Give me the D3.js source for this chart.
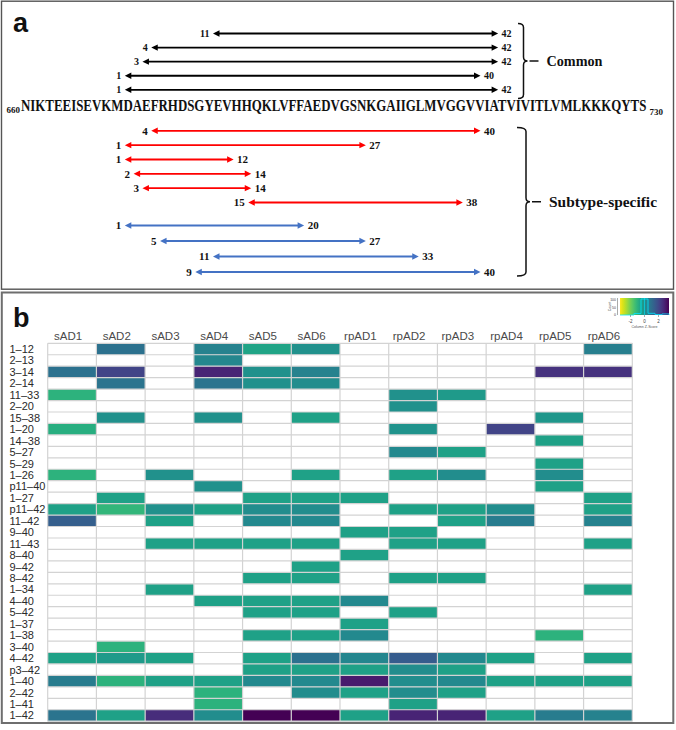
<!DOCTYPE html>
<html><head><meta charset="utf-8">
<script src="https://cdn.jsdelivr.net/npm/d3@7"></script>
<style>body{margin:0;background:#fff}svg{display:block}</style>
</head><body>
<svg id="chart" width="676" height="730"></svg>
<script>
// ---------------- data ----------------
const sequence = "NIKTEEISEVKMDAEFRHDSGYEVHHQKLVFFAEDVGSNKGAIIGLMVGGVVIATVIVITLVMLKKKQYTS";
const seqFirst = 660, seqLast = 730;
const abetaOffset = 11; // residue 1 of the peptide = index 12 of the sequence (D672)

const commonStarts = [11, 4, 3, 1, 1];
const commonEnds   = [42, 42, 42, 40, 42];
const redStarts = [4, 1, 1, 2, 3, 15];
const redEnds   = [40, 27, 12, 14, 14, 38];
const blueStarts = [1, 5, 11, 9];
const blueEnds   = [20, 27, 33, 40];
const groupLabels = ["Common", "Subtype-specific"];

const samples = ["sAD1","sAD2","sAD3","sAD4","sAD5","sAD6","rpAD1","rpAD2","rpAD3","rpAD4","rpAD5","rpAD6"];
const peptides = ["1–12","2–13","3–14","2–14","11–33","2–20","15–38","1–20","14–38","5–27","5–29","1–26",
  "p11–40","1–27","p11–42","11–42","9–40","11–43","8–40","9–42","8–42","1–34","4–40","5–42","1–37",
  "1–38","3–40","4–42","p3–42","1–40","2–42","1–41","1–42"];
const N = null;
// column z-scores (null = not detected)
const zscores = [
  [N, 0.9, N, 0.4, -0.6, 0.0,   N, N, N, N, N, 0.5],     // 1-12
  [N, N, N, 0.25, N, N,         N, N, N, N, N, N],       // 2-13
  [0.9, 2.1, N, 2.8, 0.0, 0.4,  N, N, N, N, 2.5, 2.5],   // 3-14
  [N, 0.8, N, 0.8, 0.0, 0.1,    N, N, N, N, N, N],       // 2-14
  [-1.0, N, N, N, N, N,         N, 0.0, -0.3, N, N, N],  // 11-33
  [N, N, N, N, N, N,            N, 0.0, N, N, N, N],     // 2-20
  [N, 0.0, N, 0.0, N, -0.5,     N, N, N, N, -0.2, N],    // 15-38
  [-0.9, N, N, N, N, N,         N, -0.1, N, 2.1, N, N],  // 1-20
  [N, N, N, N, N, N,            N, N, N, N, -0.5, N],    // 14-38
  [N, N, N, N, N, N,            N, 0.2, -0.5, N, N, N],  // 5-27
  [N, N, N, N, N, N,            N, N, N, N, -0.5, N],    // 5-29
  [-1.0, N, 0.0, N, N, -0.5,    N, -0.5, 0.1, N, 0.1, N],// 1-26
  [N, N, N, 0.0, N, N,          N, N, N, N, -0.5, N],    // p11-40
  [N, -0.5, N, N, -0.5, -0.5,   -0.5, N, N, N, N, -0.5], // 1-27
  [-0.5, -1.1, 0.0, -0.5, 0.1, 0.1, N, -0.5, -0.5, 0.1, N, -0.5], // p11-42
  [1.4, N, -0.5, N, 0.2, 0.2,   N, N, -0.5, 0.6, N, 0.4],// 11-42
  [N, N, N, N, N, N,            -0.5, -0.5, N, N, N, N], // 9-40
  [N, N, -0.5, -0.5, -0.5, -0.5, N, -0.5, -0.5, N, N, -0.5], // 11-43
  [N, N, N, N, N, N,            -0.5, N, N, N, N, N],    // 8-40
  [N, N, N, N, N, -0.5,         N, N, N, N, N, N],       // 9-42
  [N, N, N, N, -0.5, -0.5,      N, -0.5, -0.5, N, N, N], // 8-42
  [N, N, -0.5, N, N, N,         N, N, N, N, N, -0.5],    // 1-34
  [N, N, N, -0.5, -0.5, -0.5,   0.2, N, N, N, N, N],     // 4-40
  [N, N, N, N, -0.5, -0.5,      N, -0.5, N, N, N, N],    // 5-42
  [N, N, N, N, N, N,            -0.5, N, N, N, N, N],    // 1-37
  [N, N, N, N, -0.5, -0.5,      0.2, N, N, N, -1.0, N],  // 1-38
  [N, -1.0, N, N, N, N,         N, N, N, N, N, N],       // 3-40
  [-0.5, -0.3, -0.5, N, -0.5, 0.9, 0.3, 1.5, 0.2, -0.5, N, -0.5], // 4-42
  [N, N, N, N, -0.5, -0.5,      -0.5, 0.1, -0.5, N, N, N], // p3-42
  [0.6, -1.0, -0.5, -0.5, 0.2, 0.2, 3.0, 0.1, 0.2, -0.5, -0.5, -0.5], // 1-40
  [N, N, N, -1.0, N, 0.1,       -0.5, 0.1, -0.5, N, N, N], // 2-42
  [N, N, N, -1.0, N, N,         N, -0.5, N, N, N, N],    // 1-41
  [0.8, -0.5, 2.6, 0.1, 3.5, 3.5, -0.5, 2.8, 2.8, -0.5, 0.6, 0.4] // 1-42
];
const colorDomain = [-3.5, 3.5];
const legendTicks = [-2, 0, 2];

// ---------------- drawing ----------------
const svg = d3.select("#chart");
const serif = "'Liberation Serif','Times New Roman',serif";
const sans = "'Liberation Sans',Arial,sans-serif";

// panel frames
svg.append("rect").attr("x", 1.5).attr("y", 1.2).attr("width", 672).attr("height", 288)
  .attr("fill", "none").attr("stroke", "#555").attr("stroke-width", 1.4);
svg.append("rect").attr("x", 1.8).attr("y", 292.5).attr("width", 671.5).attr("height", 430.5)
  .attr("fill", "none").attr("stroke", "#6e6e6e").attr("stroke-width", 2);

svg.append("text").attr("x", 13).attr("y", 32).attr("font-family", sans).attr("font-weight", "bold")
  .attr("font-size", 27).attr("fill", "#111").text("a");
svg.append("text").attr("x", 13).attr("y", 327).attr("font-family", sans).attr("font-weight", "bold")
  .attr("font-size", 27).attr("fill", "#111").text("b");

// ---- panel a ----
const xSeq = d3.scaleLinear().domain([0, sequence.length]).range([21, 647]);
const seqBase = 111;
svg.append("text").attr("x", xSeq(0) - 1).attr("y", seqBase + 2).attr("text-anchor", "end")
  .attr("font-family", serif).attr("font-weight", "bold").attr("font-size", 9).attr("fill", "#111")
  .text(seqFirst);
const seqText = svg.append("text").attr("x", 0).attr("y", 0)
  .attr("font-family", serif).attr("font-weight", "bold").attr("font-size", 16.5).attr("fill", "#111")
  .text(sequence);
const natural = seqText.node().getComputedTextLength();
const sx = (xSeq(sequence.length) - xSeq(0)) / natural;
seqText.attr("transform", `translate(${xSeq(0)},${seqBase}) scale(${sx},1)`);
svg.append("text").attr("x", xSeq(sequence.length) + 2.5).attr("y", seqBase + 3.5)
  .attr("font-family", serif).attr("font-weight", "bold").attr("font-size", 9).attr("fill", "#111")
  .text(seqLast);

const xStart = r => xSeq(abetaOffset + r) - 2;
const xEnd = r => xSeq(abetaOffset + r + 1) + 1;

const yCommon = d3.scaleLinear().domain([0, commonStarts.length - 1]).range([33.5, 89.8]);
const yRed = d3.scaleLinear().domain([0, redStarts.length - 1]).range([130.8, 202.5]);
const yBlue = d3.scaleLinear().domain([0, blueStarts.length - 1]).range([225.5, 272]);

function drawArrows(starts, ends, yScale, color, fs) {
  const g = svg.append("g");
  const data = starts.map((s, i) => ({s, e: ends[i], i}));
  const hl = 6.5, hw = 3.2;
  const a = g.selectAll("g").data(data).join("g");
  a.append("line")
    .attr("x1", d => xStart(d.s) + hl - 1).attr("x2", d => xEnd(d.e) - hl + 1)
    .attr("y1", d => yScale(d.i)).attr("y2", d => yScale(d.i))
    .attr("stroke", color).attr("stroke-width", 1.8);
  a.append("path").attr("fill", color).attr("d", d => {
    const x = xStart(d.s), y = yScale(d.i);
    return `M${x},${y}L${x + hl},${y - hw}L${x + hl},${y + hw}Z`;
  });
  a.append("path").attr("fill", color).attr("d", d => {
    const x = xEnd(d.e), y = yScale(d.i);
    return `M${x},${y}L${x - hl},${y - hw}L${x - hl},${y + hw}Z`;
  });
  a.append("text").attr("x", d => xStart(d.s) - 3.5).attr("y", d => yScale(d.i)).attr("dy", "0.35em")
    .attr("text-anchor", "end").attr("font-family", serif).attr("font-weight", "bold")
    .attr("font-size", fs).attr("fill", "#111").text(d => d.s);
  a.append("text").attr("x", d => xEnd(d.e) + 3.5).attr("y", d => yScale(d.i)).attr("dy", "0.35em")
    .attr("text-anchor", "start").attr("font-family", serif).attr("font-weight", "bold")
    .attr("font-size", fs).attr("fill", "#111").text(d => d.e);
}
drawArrows(commonStarts, commonEnds, yCommon, "#000", 10);
drawArrows(redStarts, redEnds, yRed, "#ff0000", 11);
drawArrows(blueStarts, blueEnds, yBlue, "#4472c4", 11);

function brace(x0, x1, y0, y1, label, textW) {
  const ym = (y0 + y1) / 2, r = 4;
  svg.append("path").attr("fill", "none").attr("stroke", "#111").attr("stroke-width", 1.5)
    .attr("d", `M${x0},${y0}Q${x1},${y0} ${x1},${y0 + r}L${x1},${ym - r}Q${x1},${ym} ${x1 + r},${ym}` +
               `Q${x1},${ym} ${x1},${ym + r}L${x1},${y1 - r}Q${x1},${y1} ${x0},${y1}`);
  svg.append("line").attr("x1", x1 + 6).attr("x2", x1 + 15).attr("y1", ym).attr("y2", ym)
    .attr("stroke", "#111").attr("stroke-width", 1.5);
  svg.append("text").attr("x", x1 + 23).attr("y", ym + 5).attr("font-family", serif)
    .attr("font-weight", "bold").attr("font-size", 15).attr("fill", "#111")
    .attr("textLength", textW).attr("lengthAdjust", "spacingAndGlyphs").text(label);
}
brace(518, 523.5, 23.5, 98.5, groupLabels[0], 56);
brace(517, 526, 127.5, 276, groupLabels[1], 108);

// ---- panel b : heatmap ----
const x = d3.scaleBand().domain(samples).range([47.7, 632.3]);
const y = d3.scaleBand().domain(peptides).range([343.3, 721.2]);
const color = d3.scaleSequential(t => d3.interpolateViridis(1 - t)).domain(colorDomain);

const cells = [];
peptides.forEach((p, i) => samples.forEach((s, j) => cells.push({p, s, v: zscores[i][j]})));

const hm = svg.append("g");
hm.selectAll("rect.c").data(cells.filter(d => d.v !== null)).join("rect")
  .attr("class", "c")
  .attr("x", d => x(d.s)).attr("y", d => y(d.p))
  .attr("width", x.bandwidth()).attr("height", y.bandwidth())
  .attr("fill", d => color(d.v));
// grid
hm.selectAll("line.h").data(d3.range(peptides.length + 1)).join("line").attr("class", "h")
  .attr("x1", x.range()[0]).attr("x2", x.range()[1])
  .attr("y1", i => y.range()[0] + i * y.step()).attr("y2", i => y.range()[0] + i * y.step())
  .attr("stroke", "#d3d3d3").attr("stroke-width", 1.2);
hm.selectAll("line.v").data(d3.range(samples.length + 1)).join("line").attr("class", "v")
  .attr("y1", y.range()[0]).attr("y2", y.range()[1])
  .attr("x1", i => x.range()[0] + i * x.step()).attr("x2", i => x.range()[0] + i * x.step())
  .attr("stroke", "#d3d3d3").attr("stroke-width", 1.2);

hm.selectAll("text.col").data(samples).join("text").attr("class", "col")
  .attr("x", d => x(d) + x.bandwidth() / 2 - 4).attr("y", 340).attr("text-anchor", "middle")
  .attr("font-family", sans).attr("font-size", 11.5).attr("fill", "#4a4a4a").text(d => d);
hm.selectAll("text.row").data(peptides).join("text").attr("class", "row")
  .attr("x", 9.5).attr("y", d => y(d) + y.bandwidth() / 2).attr("dy", "0.36em")
  .attr("font-family", sans).attr("font-size", 11).attr("fill", "#2a2a2a").text(d => d);

// ---- colour key ----
const lx = d3.scaleLinear().domain(colorDomain).range([620, 669]);
const ly0 = 298, ly1 = 315;
const defs = svg.append("defs");
const grad = defs.append("linearGradient").attr("id", "kg");
d3.range(0, 1.0001, 0.05).forEach(t => grad.append("stop").attr("offset", t)
  .attr("stop-color", color(colorDomain[0] + t * (colorDomain[1] - colorDomain[0]))));
svg.append("rect").attr("x", lx.range()[0]).attr("y", ly0).attr("width", lx.range()[1] - lx.range()[0])
  .attr("height", ly1 - ly0).attr("fill", "url(#kg)");
const vals = cells.filter(d => d.v !== null).map(d => d.v);
const bins = d3.bin().domain(colorDomain).thresholds(d3.range(-3.5, 3.6, 1))(vals);
const cy = d3.scaleLinear().domain([0, d3.max(bins, b => b.length)]).range([ly1, ly0 + 1]);
const step = d3.line().curve(d3.curveStepAfter).x(d => lx(d[0])).y(d => cy(d[1]));
svg.append("path").attr("fill", "none").attr("stroke", "#00e5ff").attr("stroke-width", 0.8)
  .attr("d", step(bins.map(b => [b.x0, b.length]).concat([[colorDomain[1], 0]])));
svg.append("line").attr("x1", lx(0)).attr("x2", lx(0)).attr("y1", ly0).attr("y2", ly1)
  .attr("stroke", "#00e5ff").attr("stroke-width", 0.6);
svg.append("line").attr("x1", 617.5).attr("x2", 617.5).attr("y1", ly0).attr("y2", ly1)
  .attr("stroke", "#555").attr("stroke-width", 0.5);
svg.selectAll("text.cnt").data(cy.ticks(2)).join("text").attr("class", "cnt")
  .attr("x", 616).attr("y", d => cy(d)).attr("dy", "0.35em").attr("text-anchor", "end")
  .attr("font-family", sans).attr("font-size", 3.5).attr("fill", "#444").text(d => d);
svg.append("text").attr("transform", "translate(611,306.5) rotate(-90)").attr("text-anchor", "middle")
  .attr("font-family", sans).attr("font-size", 3.5).attr("fill", "#444").text("Count");
svg.selectAll("line.lt").data(legendTicks).join("line").attr("class", "lt")
  .attr("x1", d => lx(d)).attr("x2", d => lx(d)).attr("y1", ly1).attr("y2", ly1 + 2)
  .attr("stroke", "#555").attr("stroke-width", 0.5);
svg.selectAll("text.lt").data(legendTicks).join("text").attr("class", "lt")
  .attr("x", d => lx(d)).attr("y", 322.5).attr("text-anchor", "middle")
  .attr("font-family", sans).attr("font-size", 4.5).attr("fill", "#444").text(d => d);
svg.append("text").attr("x", lx(0)).attr("y", 328).attr("text-anchor", "middle")
  .attr("font-family", sans).attr("font-size", 3.6).attr("fill", "#555").text("Column Z-Score");
</script>
</body></html>
